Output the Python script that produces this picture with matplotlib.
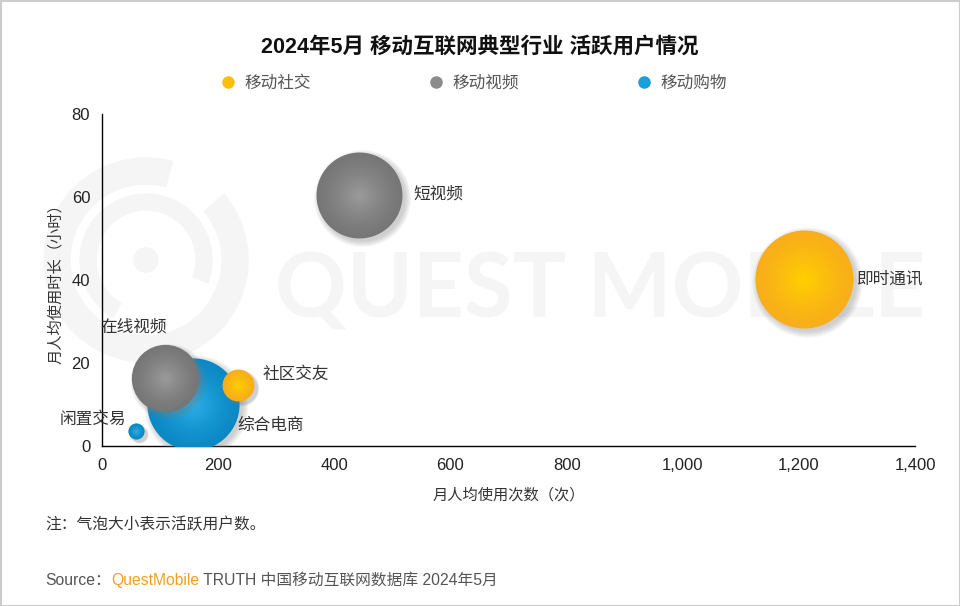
import numpy as np
import matplotlib
matplotlib.use("Agg")
from matplotlib import pyplot as plt
from matplotlib import transforms
from matplotlib.lines import Line2D
from matplotlib.patches import Wedge, Circle, Rectangle
from matplotlib.ticker import FuncFormatter
from matplotlib.colors import to_rgb

plt.rcParams['font.family'] = ['Liberation Sans', 'Noto Sans CJK SC', 'DejaVu Sans']

# data
names = ['即时通讯', '社区交友', '短视频', '在线视频', '综合电商', '闲置交易']
groups = ['移动社交', '移动社交', '移动视频', '移动视频', '移动购物', '移动购物']
freq = [1209, 234, 443, 108, 157, 59]           # 月人均使用次数
hours = [40.2, 14.7, 60.5, 16.3, 10.1, 3.7]      # 月人均使用时长（小时）
users = [10.4, 1.1, 8.0, 4.9, 9.2, 0.28]         # 活跃用户数（亿，估计）

group_names = ['移动社交', '移动视频', '移动购物']
edge_col = {'移动社交': '#f8ae1a', '移动视频': '#767676', '移动购物': '#0a88c4'}
center_col = {'移动社交': '#ffcf00', '移动视频': '#9a9a9a', '移动购物': '#2aaee6'}
legend_col = {'移动社交': '#fbbd0e', '移动视频': '#8c8c8c', '移动购物': '#1a9fd8'}

# label offsets (points) and alignment for each bubble
label_pos = {
    '即时通讯': (38, 0, 'left'),
    '社区交友': (18, 8, 'left'),
    '短视频': (39, 1, 'left'),
    '在线视频': (-46, 37, 'left'),
    '综合电商': (32, -15, 'left'),
    '闲置交易': (-7, 8, 'right'),
}

fig = plt.figure(figsize=(9.6, 6.06), dpi=100)

# background layer: watermark + frame
bg = fig.add_axes([0, 0, 1, 1], zorder=0)
bg.set_xlim(0, 960)
bg.set_ylim(606, 0)
bg.axis('off')
wm = '#f5f5f5'
bg.add_patch(Wedge((146, 260), 102, -40, 285, width=26, color=wm))
bg.add_patch(Wedge((146, 260), 66, 120, 20, width=16, color=wm))
bg.add_patch(Circle((146, 260), 12, color=wm))
bg.text(600, 292, 'QUEST MOBILE', fontsize=64, color=wm, va='center', ha='center',
        family='Lato', fontweight='bold')
bg.add_patch(Rectangle((0.5, 0.5), 959, 605, fill=False, edgecolor='#cccccc', lw=1.5))

ax = fig.add_axes([0.10625, 0.264, 0.847, 0.548], zorder=2)
ax.patch.set_alpha(0)

k = 479.0
sizes = [u * k for u in users]
order = np.argsort(sizes)[::-1]
shadow_tr = transforms.offset_copy(ax.transData, fig=fig, x=3, y=-3, units='dots')

z = 3
for i in order:
    g = groups[i]
    s = sizes[i]
    # soft shadow
    for j in range(6):
        ax.scatter(freq[i], hours[i], s=s * (1.0 + 0.025 * j) ** 2, color='#808080',
                   alpha=0.07, lw=0, transform=shadow_tr, zorder=z)
    z += 1
    # radial gradient
    c0 = np.array(to_rgb(edge_col[g]))
    c1 = np.array(to_rgb(center_col[g]))
    n = 24
    for j in range(n):
        f = 1 - j / n
        t = (j / (n - 1)) ** 1.3
        ax.scatter(freq[i], hours[i], s=s * f ** 2, color=c0 + (c1 - c0) * t,
                   lw=0, zorder=z)
    z += 1

for i, nm in enumerate(names):
    dx, dy, ha = label_pos[nm]
    ax.annotate(nm, (freq[i], hours[i]), xytext=(dx, dy), textcoords='offset points',
                ha=ha, va='center', fontsize=12, color='#333333', zorder=50)

ax.set_xlim(0, 1400)
ax.set_ylim(0, 80)
ax.set_xticks(np.arange(0, 1401, 200))
ax.set_yticks(np.arange(0, 81, 20))
ax.xaxis.set_major_formatter(FuncFormatter(lambda v, p: f'{v:,.0f}'))
ax.tick_params(length=0, labelsize=12, colors='#222222')
ax.tick_params(axis='y', pad=8.5)
ax.tick_params(axis='x', pad=8.5)
for sp in ['top', 'right']:
    ax.spines[sp].set_visible(False)
for sp in ['left', 'bottom']:
    ax.spines[sp].set_color('#000000')
    ax.spines[sp].set_linewidth(1)
ax.set_xlabel('月人均使用次数（次）', fontsize=11, color='#333333', labelpad=11)
ax.set_ylabel('月人均使用时长（小时）', fontsize=11, color='#333333', labelpad=6)

handles = [Line2D([], [], marker='o', ls='', markersize=8, color=legend_col[g], label=g)
           for g in group_names]
fig.legend(handles=handles, loc='center', bbox_to_anchor=(0.493, 1 - 83 / 606), ncol=3,
           frameon=False, fontsize=12, handletextpad=0.5, handlelength=1,
           columnspacing=7.0, labelcolor='#555555')

fig.text(0.5, 1 - 47 / 606, '2024年5月 移动互联网典型行业 活跃用户情况', ha='center',
         va='center', fontsize=15.5, fontweight='bold', color='#111111')

fig.text(45 / 960, 1 - 525 / 606, '注：气泡大小表示活跃用户数。', fontsize=11.3,
         color='#333333', va='center')

# source line, composed piece by piece
renderer = fig.canvas.get_renderer()
x0 = 45
parts = [('Source：', '#555555'), ('QuestMobile', '#f5a01a'),
         (' TRUTH 中国移动互联网数据库 2024年5月', '#555555')]
for txt, col in parts:
    t = fig.text(x0 / 960, 1 - 580 / 606, txt, fontsize=11.3, color=col, va='center')
    bb = t.get_window_extent(renderer=renderer)
    x0 += bb.width

fig.savefig('out.png', dpi=100)
